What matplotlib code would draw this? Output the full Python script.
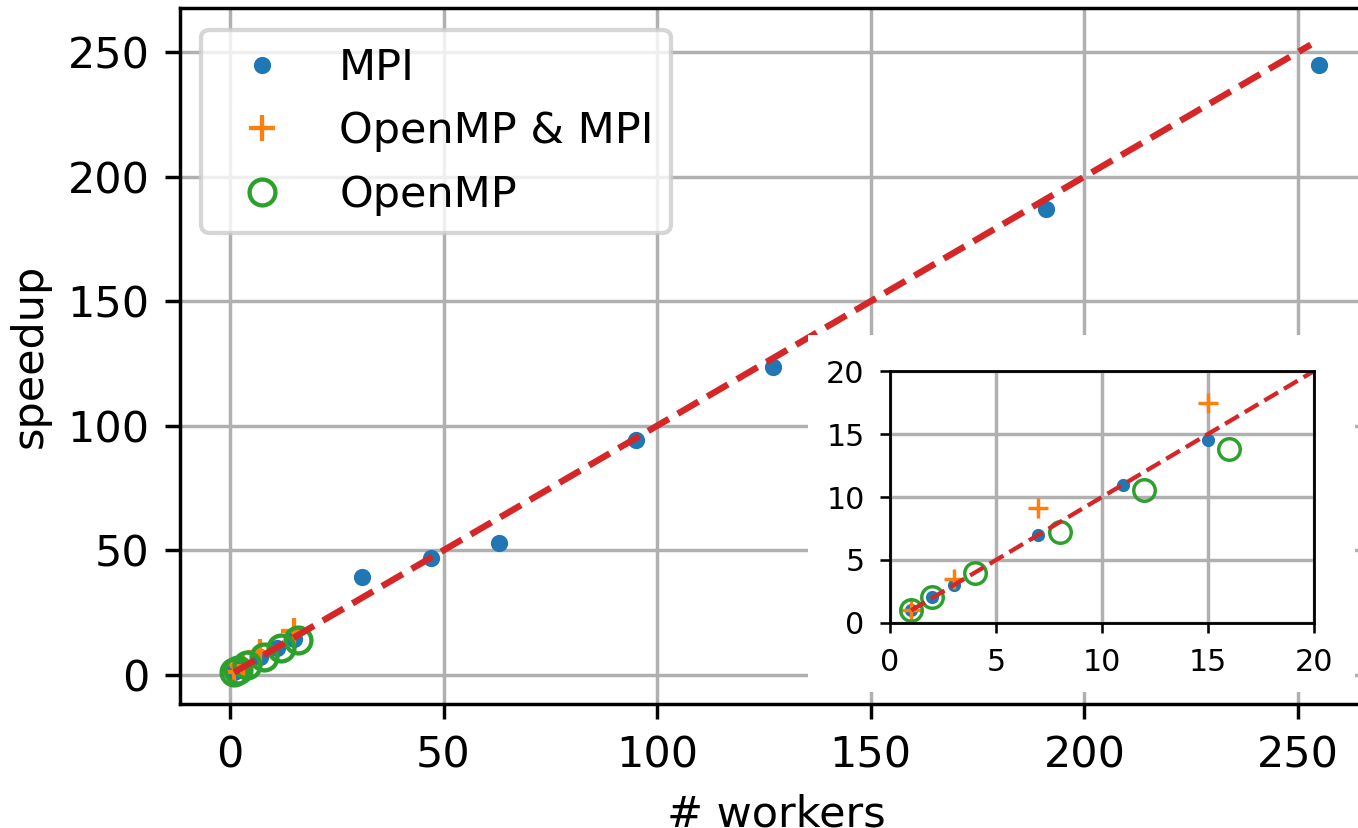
import matplotlib
matplotlib.use("Agg")
from matplotlib import pyplot as plt
from matplotlib.patches import Rectangle

# donnees
mpi_x = [1, 2, 3, 7, 11, 15, 31, 47, 63, 95, 127, 191, 255]
mpi_y = [1, 2.03, 2.98, 6.96, 10.92, 14.55, 39.3, 47, 53, 94.3, 123.6, 187, 244.8]

hyb_x = [1, 3, 7, 15]
hyb_y = [1.05, 3.52, 9.16, 17.48]

omp_x = [1, 2, 4, 8, 12, 16]
omp_y = [1.03, 2.03, 3.93, 7.26, 10.57, 13.82]

ideal_main = [1, 253]
ideal_zoom = [1, 20]

fig = plt.figure(figsize=(1358 / 310, 828 / 310), dpi=310)
ax = fig.add_axes([0.1325, 0.1498, 0.879, 0.8405])

ax.plot(mpi_x, mpi_y, '.', color='C0', label='MPI')
ax.plot(hyb_x, hyb_y, '+', color='C1', label='OpenMP & MPI')
ax.plot(omp_x, omp_y, 'o', color='C2', fillstyle='none', label='OpenMP')
ax.plot(ideal_main, ideal_main, '--', color='C3', lw=1.5)
ax.set_xlim(-11.7, 267.7)
ax.set_ylim(-11.7, 267.7)
ax.grid(True)
ax.set_axisbelow(True)
ax.set_xlabel('# workers')
ax.set_ylabel('speedup')
ax.set_xticks([0, 50, 100, 150, 200, 250])
ax.set_yticks([0, 50, 100, 150, 200, 250])
ax.legend(loc='upper left')

# fond blanc derriere l'encart
fig.add_artist(Rectangle((0.595, 0.164), 0.403, 0.431, transform=fig.transFigure,
                         facecolor='white', edgecolor='none', zorder=1))

ins = fig.add_axes([0.6554, 0.2476, 0.3122, 0.3043], zorder=2)
ins.plot(mpi_x, mpi_y, '.', color='C0', ms=4.5, mew=0.8)
ins.plot(hyb_x, hyb_y, '+', color='C1', ms=4.5, mew=0.8)
ins.plot(omp_x, omp_y, 'o', color='C2', fillstyle='none', ms=5, mew=0.8)
ins.plot(ideal_zoom, ideal_zoom, '--', color='C3', lw=1.0)
ins.set_xlim(0, 20)
ins.set_ylim(0, 20)
ins.set_xticks([0, 5, 10, 15, 20])
ins.set_yticks([0, 5, 10, 15, 20])
ins.grid(True)
ins.set_axisbelow(True)
ins.tick_params(labelsize=7, length=2.4, width=0.6)
for s in ins.spines.values():
    s.set_linewidth(0.65)

fig.savefig('out.png', dpi=310)
